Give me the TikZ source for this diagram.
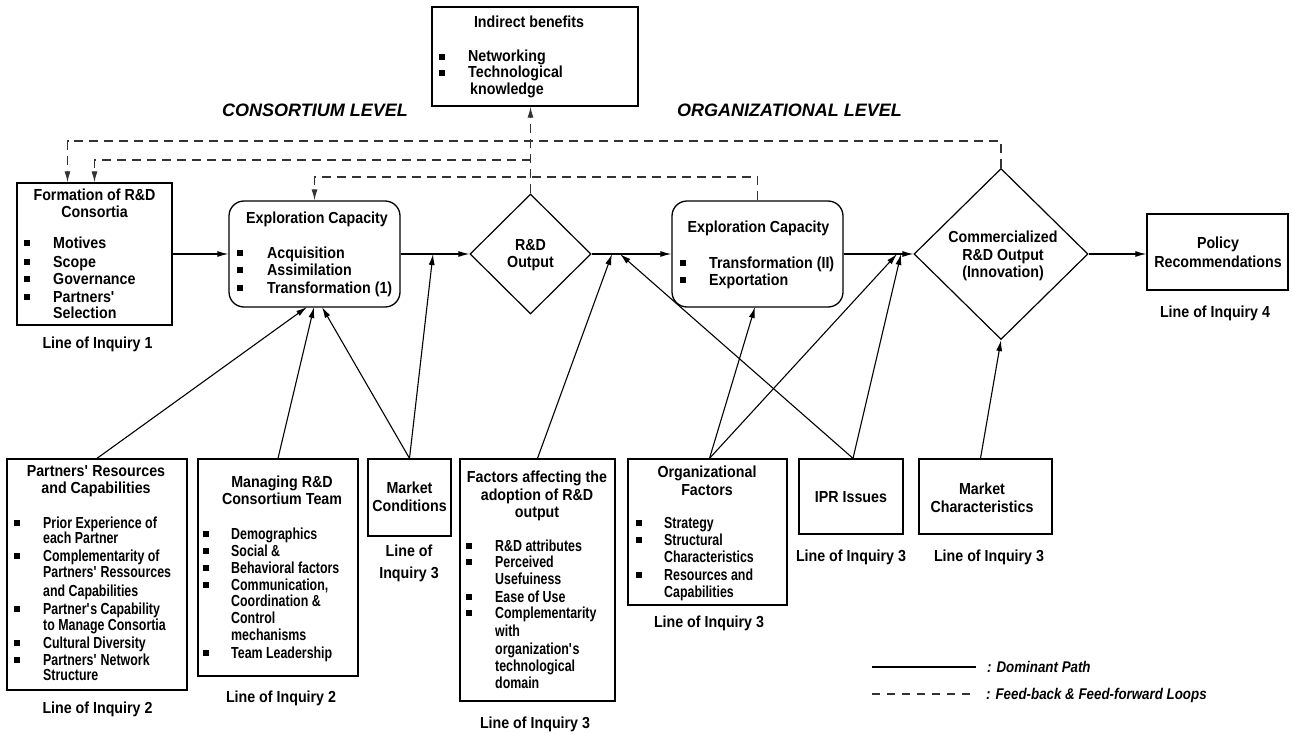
\documentclass[tikz,border=0pt]{standalone}
\usepackage{fontspec}
\setmainfont{Liberation Sans}[FakeStretch=0.89]
\newfontfamily\narrowfont{Liberation Sans}[FakeStretch=0.775]
\newfontfamily\widefont{Liberation Sans}
\newfontfamily\legfont{Liberation Sans}[FakeStretch=0.86]
\usetikzlibrary{shapes.geometric,arrows.meta}
\newcommand{\aps}{\textquotesingle}
\tikzset{
 box/.style={draw, line width=1.3pt, inner sep=0pt},
 rbox/.style={box, rounded corners=15pt},
 dia/.style={draw, line width=1.2pt, diamond, inner sep=0pt},
 txt/.style={inner sep=0pt, font=\bfseries\fontsize{16}{17}\selectfont},
 txtn/.style={inner sep=0pt, font=\narrowfont\bfseries\fontsize{16}{17}\selectfont},
 lvl/.style={inner sep=0pt, font=\widefont\bfseries\itshape\fontsize{18}{20}\selectfont},
 leg/.style={inner sep=0pt, font=\legfont\bfseries\itshape\fontsize{15.5}{17}\selectfont},
 dom/.style={line width=1.1pt, -{Latex[length=11pt,width=6pt]}},
 fb/.style={line width=1.1pt, dash pattern=on 9pt off 6pt, black!80},
 fbarr/.style={fb, -{Latex[length=11pt,width=6pt]}},
}
\newcommand{\txtlines}[5][txt]{\foreach \yy/\ltext [count=\ii] in {#5}{\node[#1, anchor=#3] (#2\ii) at (#4,\yy+5) {\ltext};}}
\newcommand{\blts}[2]{\foreach \yy in {#2}{\fill (#1-3,\yy-3) rectangle (#1+3,\yy+3);}}
\begin{document}
\begin{tikzpicture}[x=1pt,y=-1pt]
\useasboundingbox (0,0) rectangle (1292,733);

% ---------- main row ----------
\node[box, minimum width=155pt, minimum height=142pt] (form) at (94.5,254) {};
\txtlines{formt}{base}{94.5}{195/Formation of R\&D, 212/Consortia}
\blts{27}{243,262,279,297}
\txtlines{forml}{base west}{53}{243/Motives, 262/Scope, 279/Governance, 297/Partners\aps, 313/Selection}
\node[txt, anchor=base] (loi1) at (97.5,348) {Line of Inquiry 1};

\node[rbox, minimum width=171pt, minimum height=106pt] (ec1) at (314.5,254) {};
\txtlines{ec1t}{base}{317}{218/Exploration Capacity}
\blts{240}{253,270,288}
\txtlines{ec1l}{base west}{267}{253/Acquisition, 270/Assimilation, 288/Transformation (1)}

\node[dia, minimum width=121pt, minimum height=120pt] (rd) at (530.5,254) {};
\txtlines{rdt}{base}{530.5}{245/R\&D, 262/Output}

\node[rbox, minimum width=171pt, minimum height=106pt] (ec2) at (757.5,254) {};
\txtlines{ec2t}{base}{758.5}{227/Exploration Capacity}
\blts{683}{263,280}
\txtlines{ec2l}{base west}{709}{263/Transformation (II), 280/Exportation}

\node[dia, minimum width=174pt, minimum height=171pt] (comm) at (1001,254) {};
\txtlines{commt}{base}{1003}{237/Commercialized, 255/R\&D Output, 272/(Innovation)}

\node[box, minimum width=141pt, minimum height=76pt] (pol) at (1217.5,252) {};
\txtlines{polt}{base}{1218}{243/Policy, 262/Recommendations}
\node[txt, anchor=base] (loi4) at (1215,317) {Line of Inquiry 4};

% ---------- top ----------
\node[box, minimum width=206pt, minimum height=99pt] (ind) at (535,56.5) {};
\txtlines{indt}{base}{529}{23/Indirect benefits}
\blts{442}{57,73}
\txtlines{indl}{base west}{468}{57/Networking, 73/Technological}
\node[txt, anchor=base west] (indk) at (470,95) {knowledge};

\node[lvl, anchor=base east] (cons) at (408,117) {CONSORTIUM LEVEL};
\node[lvl, anchor=base west] (orgl) at (677,117) {ORGANIZATIONAL LEVEL};

% ---------- bottom boxes ----------
\node[box, minimum width=180pt, minimum height=231pt] (part) at (97,574.5) {};
\txtlines{partt}{base}{96}{471/Partners\aps\ Resources, 488/and Capabilities}
\blts{17}{523,556,609,643,660}
\txtlines[txtn]{partl}{base west}{43}{523/Prior Experience of, 538/each Partner, 556/Complementarity of, 572/Partners\aps\ Ressources, 591/and Capabilities, 609/Partner\aps s Capability, 625/to Manage Consortia, 643/Cultural Diversity, 660/Partners\aps\ Network, 675/Structure}
\node[txt, anchor=base] (loi2a) at (97.5,713) {Line of Inquiry 2};

\node[box, minimum width=160pt, minimum height=217pt] (mgmt) at (278,567.5) {};
\txtlines{mgmtt}{base}{282}{482/Managing R\&D, 499/Consortium Team}
\blts{206}{534,551,568,585,653}
\txtlines[txtn]{mgmtl}{base west}{231}{534/Demographics, 551/Social \&, 568/Behavioral factors, 585/{Communication,}, 601/Coordination \&, 618/Control, 635/mechanisms, 653/Team Leadership}
\node[txt, anchor=base] (loi2b) at (281,702) {Line of Inquiry 2};

\node[box, minimum width=83pt, minimum height=77pt] (mkt) at (409.5,497.5) {};
\txtlines{mktt}{base}{409.5}{488/Market, 506/Conditions}
\txtlines{loi3a}{base}{409}{551/Line of, 573/Inquiry 3}

\node[box, minimum width=155pt, minimum height=242pt] (fac) at (537.5,580) {};
\txtlines{fact}{base}{537}{477/Factors affecting the, 495/adoption of R\&D, 512/output}
\blts{469}{546,562,597,613}
\txtlines[txtn]{facl}{base west}{495}{546/R\&D attributes, 562/Perceived, 579/Usefuiness, 597/Ease of Use, 613/Complementarity, 631/with, 649/organization\aps s, 666/technological, 683/domain}
\node[txt, anchor=base] (loi3b) at (535,728) {Line of Inquiry 3};

\node[box, minimum width=159pt, minimum height=146pt] (org) at (707.5,532) {};
\txtlines{orgt}{base}{707}{472/Organizational, 490/Factors}
\blts{639}{523,540,575}
\txtlines[txtn]{orgl}{base west}{664}{523/Strategy, 540/Structural, 557/Characteristics, 575/Resources and, 592/Capabilities}
\node[txt, anchor=base] (loi3c) at (709,627) {Line of Inquiry 3};

\node[box, minimum width=104pt, minimum height=75pt] (ipr) at (851,496.5) {};
\node[txt, anchor=base] (iprt) at (851,502) {IPR Issues};
\node[txt, anchor=base] (loi3d) at (851,561) {Line of Inquiry 3};

\node[box, minimum width=133pt, minimum height=75pt] (mch) at (985.5,496.5) {};
\txtlines{mcht}{base}{982}{489/Market, 507/Characteristics}
\node[txt, anchor=base] (loi3e) at (989,561) {Line of Inquiry 3};

% ---------- coordinates for arrow ends ----------
\coordinate (j1) at (433,254);
\coordinate (j2) at (612,254);
\coordinate (j2b) at (620,254);
\coordinate (j3) at (897,254);
\coordinate (j3b) at (901,254);
\coordinate (e1a) at (307,307);
\coordinate (e1b) at (314,307);
\coordinate (e1c) at (322,307);
\coordinate (e2a) at (755,307);

% ---------- dominant path ----------
\draw[dom] (form.east) -- (ec1.west);
\draw[dom] (ec1.east) -- (rd.west);
\draw[dom] (rd.east) -- (ec2.west);
\draw[dom] (ec2.east) -- (comm.west);
\draw[dom] (comm.east) -- (comm.east -| pol.west);

\draw[dom] (part.north) -- (e1a);
\draw[dom] (mgmt.north) -- (e1b);
\draw[dom] (mkt.north) -- (e1c);
\draw[dom] (mkt.north) -- (j1);
\draw[dom] (fac.north) -- (j2);
\draw[dom] ([xshift=2pt]ipr.north) -- (j2b);
\draw[dom] ([xshift=2pt]org.north) -- (e2a);
\draw[dom] ([xshift=2pt]org.north) -- (j3);
\draw[dom] ([xshift=2pt]ipr.north) -- (j3b);
\draw[dom] ([xshift=-5pt]mch.north) -- (comm.south);

% ---------- feedback loops ----------
\draw[fbarr] (comm.north) -- (comm.north |- 0,141) -| ([xshift=-27pt]form.north);
\draw[fbarr] (rd.north) -- (rd.north |- ind.south);
\draw[fbarr] (rd.north |- 0,160) -| (form.north);
\draw[fbarr] (ec2.north) -- (ec2.north |- 0,177) -| (ec1.north);

% ---------- legend ----------
\coordinate (la) at (872,667);
\coordinate (lb) at (976,667);
\coordinate (lc) at (872,694);
\coordinate (ld) at (971,694);
\draw[line width=1.1pt] (la) -- (lb);
\draw[line width=1.1pt, dash pattern=on 8pt off 7pt, black!80] (lc) -- (ld);
\node[leg, anchor=base west] (lgt1) at (987,672) {: Dominant Path};
\node[leg, anchor=base west] (lgt2) at (986,699) {: Feed-back \& Feed-forward Loops};
\end{tikzpicture}
\end{document}
